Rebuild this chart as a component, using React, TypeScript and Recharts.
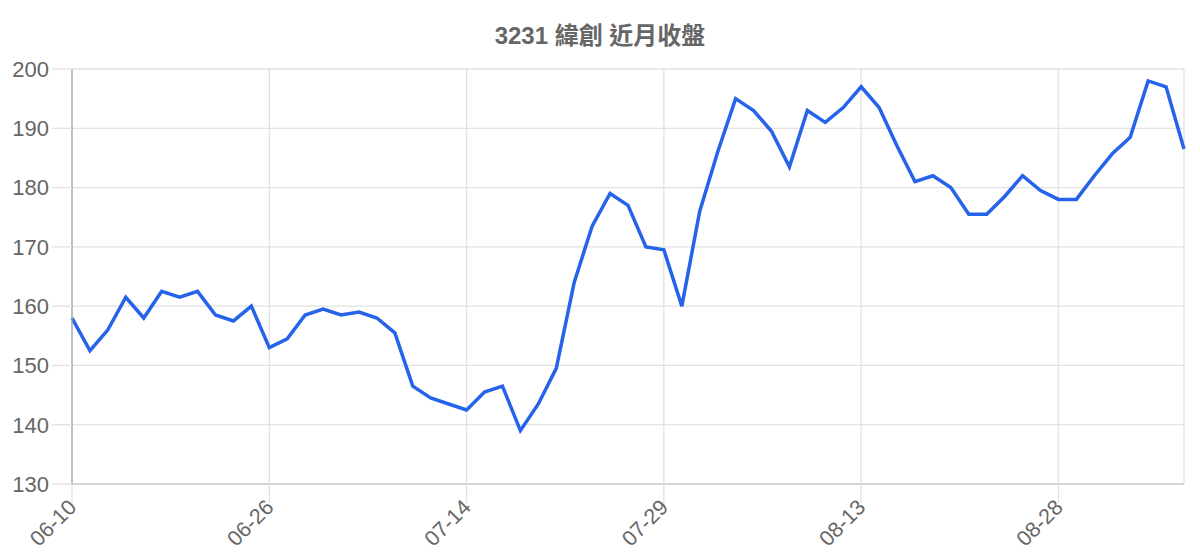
import React from "react";
import { LineChart, Line, XAxis, YAxis, CartesianGrid } from "recharts";

const dates: string[] = [
  "06-10", "06-11", "06-12", "06-15", "06-16", "06-17", "06-18", "06-22", "06-23", "06-24", "06-25",
  "06-26", "06-29", "06-30", "07-01", "07-02", "07-03", "07-06", "07-07", "07-08", "07-09", "07-10",
  "07-14", "07-15", "07-16", "07-17", "07-20", "07-21", "07-22", "07-23", "07-24", "07-27", "07-28",
  "07-29", "07-30", "07-31", "08-03", "08-04", "08-05", "08-06", "08-07", "08-10", "08-11", "08-12",
  "08-13", "08-14", "08-17", "08-18", "08-19", "08-20", "08-21", "08-24", "08-25", "08-26", "08-27",
  "08-28", "08-31", "09-01", "09-02", "09-03", "09-04", "09-07", "09-08",
];

const closes: number[] = [
  158, 152.5, 156, 161.5, 158, 162.5, 161.5, 162.5, 158.5, 157.5, 160,
  153, 154.5, 158.5, 159.5, 158.5, 159, 158, 155.5, 146.5, 144.5, 143.5,
  142.5, 145.5, 146.5, 139, 143.5, 149.5, 164, 173.5, 179, 177, 170,
  169.5, 160, 176, 186, 195, 193, 189.5, 183.5, 193, 191, 193.5,
  197, 193.5, 187, 181, 182, 180, 175.5, 175.5, 178.5, 182, 179.5,
  178, 178, 182, 185.7, 188.5, 198, 197, 186.5,
];

const xTicks: string[] = ["06-10", "06-26", "07-14", "07-29", "08-13", "08-28"];
const yTicks: number[] = [130, 140, 150, 160, 170, 180, 190, 200];
const title = "3231 緯創 近月收盤";

const data = dates.map((d, i) => ({ date: d, close: closes[i] }));

const FONT = "'Liberation Sans', Arial, Helvetica, sans-serif";

const XTick = (props: any) => {
  const { x, y, payload } = props;
  return (
    <g transform={`translate(${x},${y})`}>
      <text
        x={0}
        y={0}
        dy={8}
        textAnchor="end"
        transform="rotate(-45)"
        fill="#666"
        fontSize={21.5}
        fontFamily={FONT}
      >
        {payload.value}
      </text>
    </g>
  );
};

export default function App() {
  return (
    <div style={{ position: "fixed", left: 0, top: 0, width: 1200, height: 560, background: "#fff" }}>
      <svg width={1200} height={60} style={{ position: "absolute", left: 0, top: 0 }}>
        <text
          x={600}
          y={44}
          textAnchor="middle"
          fill="#666"
          fontSize={24}
          fontWeight="bold"
          fontFamily={"'Liberation Sans', Arial, 'Noto Sans CJK TC', sans-serif"}
        >
          {title}
        </text>
      </svg>
      <div style={{ position: "absolute", left: 0, top: 0 }}>
        <LineChart
          width={1200}
          height={560}
          data={data}
          margin={{ top: 69, right: 16, bottom: 0, left: 0 }}
        >
          <CartesianGrid stroke="#e2e2e2" strokeWidth={1.3} />
          <XAxis
            dataKey="date"
            ticks={xTicks}
            interval={0}
            height={76}
            tickSize={19}
            tickMargin={0}
            axisLine={{ stroke: "#cfcfcf", strokeWidth: 1.3 }}
            tickLine={{ stroke: "#e2e2e2", strokeWidth: 1.3 }}
            tick={<XTick />}
          />
          <YAxis
            domain={[130, 200]}
            ticks={yTicks}
            interval={0}
            width={72}
            tickSize={20}
            tickMargin={3}
            axisLine={{ stroke: "#a8a8a8", strokeWidth: 1.3 }}
            tickLine={{ stroke: "#e2e2e2", strokeWidth: 1.3 }}
            tick={{ fill: "#666", fontSize: 22, fontFamily: FONT }}
          />
          <Line
            type="linear"
            dataKey="close"
            stroke="#2563eb"
            strokeWidth={3.5}
            dot={false}
            isAnimationActive={false}
          />
        </LineChart>
      </div>
    </div>
  );
}
